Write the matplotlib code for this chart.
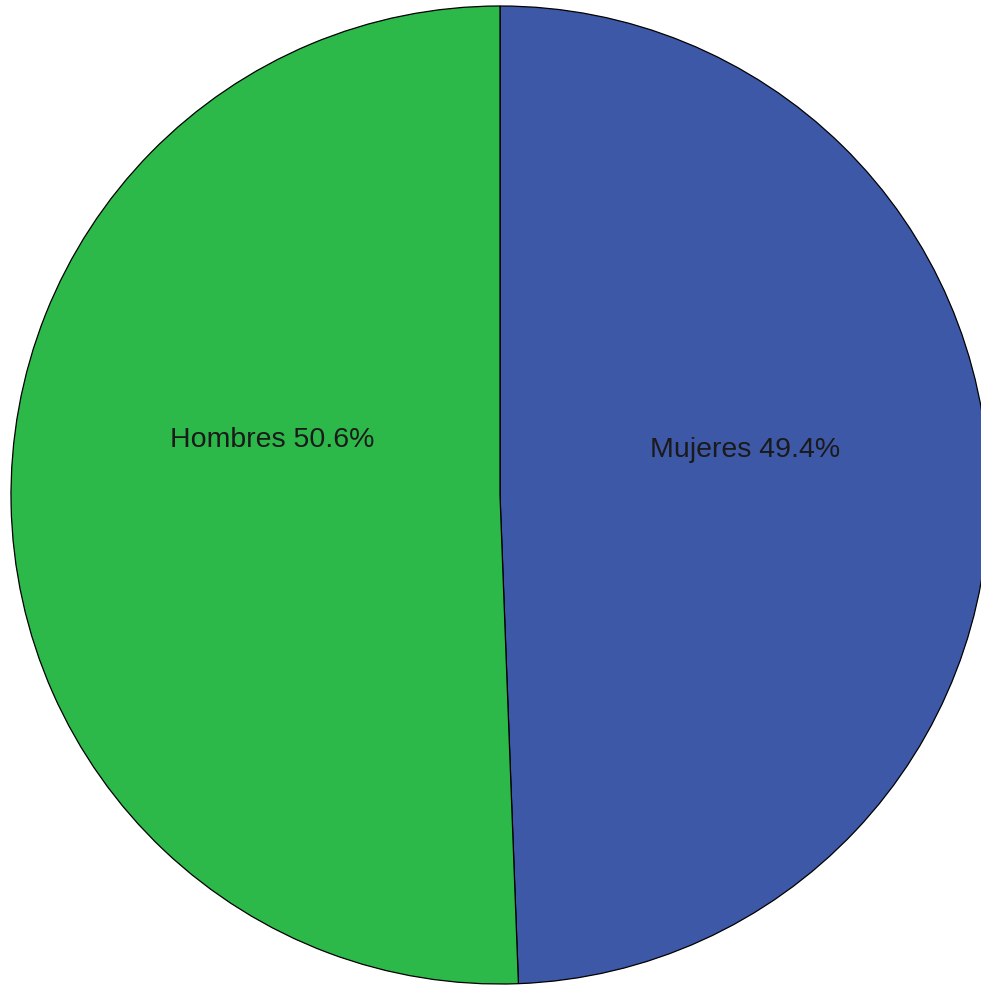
import numpy as np
import matplotlib
matplotlib.use("Agg")
import matplotlib.pyplot as plt

# Data
categories = ["Mujeres", "Hombres"]
percentages = [49.4, 50.6]

# Style
colors = ["#3e58a8", "#2db84a"]
COLOR_TEXT = "#1a1a1a"
W, H = 981, 985
CENTER = (500, H - 495)
RADIUS = 489
# label placement (angle in degrees, fraction of radius)
label_pos = [(10.5, 0.51), (166.5, 0.48)]

fig = plt.figure(figsize=(W / 100, H / 100), dpi=100)
fig.patch.set_facecolor("white")
ax = fig.add_axes([0, 0, 1, 1])

wedges, _ = ax.pie(
    percentages,
    colors=colors,
    startangle=90,
    counterclock=False,
    center=CENTER,
    radius=RADIUS,
    wedgeprops={"edgecolor": "black", "linewidth": 0.9},
    frame=True,
)

for name, pct, (ang, dist) in zip(categories, percentages, label_pos):
    a = np.deg2rad(ang)
    x = CENTER[0] + dist * RADIUS * np.cos(a)
    y = CENTER[1] + dist * RADIUS * np.sin(a)
    ax.text(x, y, f"{name} {pct:.1f}%", ha="center", va="center",
            fontsize=20.5, family="Liberation Sans", color=COLOR_TEXT)

ax.set_xlim(0, W)
ax.set_ylim(0, H)
ax.set_aspect("equal")
ax.axis("off")

fig.savefig("out.png", dpi=100, facecolor="white")
